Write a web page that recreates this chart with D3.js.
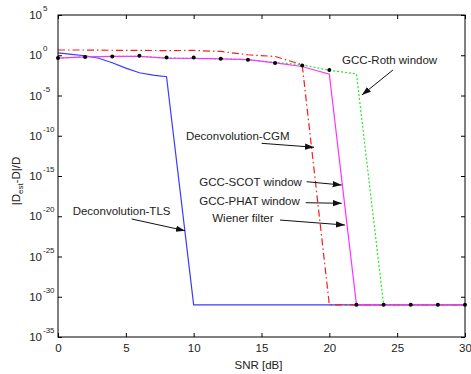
<!DOCTYPE html>
<html>
<head>
<meta charset="utf-8">
<script src="https://cdn.jsdelivr.net/npm/d3@7"></script>
<style>
  html, body { margin: 0; padding: 0; background: #fff; }
  svg { display: block; font-family: "Liberation Sans", Arial, sans-serif; }
</style>
</head>
<body>
<div id="chart"></div>
<script>
// values are log10 of |D_est - D| / D
const snrEven = [0, 2, 4, 6, 8, 10, 12, 14, 16, 18, 20, 22, 24, 26, 28, 30];

const tlsSnr = [0, 1, 2, 3, 4, 5, 6, 7, 8, 10, 30];
const tlsLog = [0.3, 0.12, -0.06, -0.37, -0.93, -1.6, -2.17, -2.48, -2.67, -31, -31];

const cgmLog = [0.65, 0.65, 0.62, 0.6, 0.58, 0.6, 0.47, 0.06, -0.15, -1.18, -31, -31, -31, -31, -31, -31];
const rothLog = [-0.35, -0.2, -0.15, -0.15, -0.35, -0.4, -0.45, -0.55, -0.9, -1.18, -1.88, -2.3, -31, -31, -31, -31];
const wienerLog = [-0.35, -0.2, -0.15, -0.15, -0.35, -0.4, -0.45, -0.55, -0.95, -1.4, -2.35, -31, -31, -31, -31, -31];
const dotsLog = [-0.35, -0.22, -0.15, -0.06, -0.27, -0.27, -0.43, -0.56, -0.97, -1.27, -1.84, -31, -31, -31, -31, -31];

const xTicks = [0, 5, 10, 15, 20, 25, 30];
const yTickExp = [5, 0, -5, -10, -15, -20, -25, -30, -35];

const labels = [
  { text: "GCC-Roth window",   tx: 20.93, ty: -1.09,  ax: 24.69, ay: -1.83,  bx: 22.4,  by: -4.94 },
  { text: "Deconvolution-CGM", tx: 9.43,  ty: -10.47, ax: 15.01, ay: -10.94, bx: 18.87, by: -11.43 },
  { text: "GCC-SCOT window",   tx: 10.41, ty: -16.2,  ax: 18.33, ay: -15.71, bx: 20.91, by: -16.12 },
  { text: "GCC-PHAT window",   tx: 10.41, ty: -18.6,  ax: 18.26, ay: -18.32, bx: 20.91, by: -18.39 },
  { text: "Wiener filter",     tx: 11.37, ty: -20.7,  ax: 16.36, ay: -20.47, bx: 21.15, by: -21.09 },
  { text: "Deconvolution-TLS", tx: 1.08,  ty: -19.84, ax: 5.43,  ay: -20.34, bx: 9.36,  by: -21.79 }
];

const W = 471, H = 374;
const margin = { top: 15, right: 6, bottom: 37, left: 58 };
const width = W - margin.left - margin.right;
const height = H - margin.top - margin.bottom;

const svg = d3.select("#chart").append("svg")
  .attr("width", W)
  .attr("height", H);

const defs = svg.append("defs");
defs.append("marker")
  .attr("id", "arrow")
  .attr("viewBox", "0 0 10 10")
  .attr("refX", 10).attr("refY", 5)
  .attr("markerWidth", 9).attr("markerHeight", 9)
  .attr("markerUnits", "userSpaceOnUse")
  .attr("orient", "auto")
  .append("path")
  .attr("d", "M0,1.5 L10,5 L0,8.5 Z")
  .attr("fill", "#111");

const g = svg.append("g").attr("transform", `translate(${margin.left},${margin.top})`);

const x = d3.scaleLinear().domain([0, 30]).range([0, width]);
const y = d3.scaleLog().domain([1e-35, 1e5]).range([height, 0]);
const ye = e => y(Math.pow(10, e));

// ticks (inward, mirrored like matlab)
const tickVals = yTickExp.map(e => Math.pow(10, e));
g.append("g").attr("transform", `translate(0,${height})`)
  .call(d3.axisBottom(x).tickValues(xTicks).tickSize(-4).tickPadding(7))
  .call(a => a.select(".domain").remove())
  .call(a => a.selectAll("text").style("font-size", "11.5px").attr("fill", "#222"));
g.append("g")
  .call(d3.axisTop(x).tickValues(xTicks).tickSize(-4).tickFormat(""))
  .call(a => a.select(".domain").remove());
g.append("g")
  .call(d3.axisLeft(y).tickValues(tickVals).tickSize(-4).tickFormat(""))
  .call(a => a.select(".domain").remove());
g.append("g").attr("transform", `translate(${width},0)`)
  .call(d3.axisRight(y).tickValues(tickVals).tickSize(-4).tickFormat(""))
  .call(a => a.select(".domain").remove());

// y tick labels 10^k
const yl = g.append("g").attr("fill", "#222");
yTickExp.forEach(e => {
  const t = yl.append("text")
    .attr("x", -16)
    .attr("y", ye(e) + 4)
    .attr("text-anchor", "end")
    .style("font-size", "11.5px")
    .text("10");
  yl.append("text")
    .attr("x", -15)
    .attr("y", ye(e) - 4)
    .style("font-size", "8px")
    .text(e);
});

// series
const line = d3.line().x(d => x(d[0])).y(d => ye(d[1]));
const series = [
  { xs: tlsSnr, ys: tlsLog, color: "#3b3bff", dash: null },
  { xs: snrEven, ys: cgmLog, color: "#ff1a1a", dash: "7,3,1.5,3" },
  { xs: snrEven, ys: rothLog, color: "#22ee22", dash: "2,2" },
  { xs: snrEven, ys: wienerLog, color: "#ff33ff", dash: null }
];
series.forEach(s => {
  g.append("path")
    .datum(s.xs.map((v, i) => [v, s.ys[i]]))
    .attr("fill", "none")
    .attr("stroke", s.color)
    .attr("stroke-width", 1.2)
    .attr("stroke-dasharray", s.dash)
    .attr("d", line);
});

g.selectAll(".dot")
  .data(snrEven.map((v, i) => [v, dotsLog[i]]))
  .enter().append("circle")
  .attr("cx", d => x(d[0]))
  .attr("cy", d => ye(d[1]))
  .attr("r", 2)
  .attr("fill", "#000");

// frame
g.append("rect")
  .attr("width", width).attr("height", height)
  .attr("fill", "none").attr("stroke", "#000").attr("stroke-width", 1);

// annotations
labels.forEach(l => {
  g.append("text")
    .attr("x", x(l.tx)).attr("y", ye(l.ty))
    .style("font-size", "11.5px")
    .attr("fill", "#222")
    .text(l.text);
  g.append("line")
    .attr("x1", x(l.ax)).attr("y1", ye(l.ay))
    .attr("x2", x(l.bx)).attr("y2", ye(l.by))
    .attr("stroke", "#111").attr("stroke-width", 1)
    .attr("marker-end", "url(#arrow)");
});

// axis titles
g.append("text")
  .attr("x", width / 2 - 3).attr("y", height + 32)
  .attr("text-anchor", "middle")
  .style("font-size", "11.5px").attr("fill", "#222")
  .text("SNR [dB]");

const yt = g.append("text")
  .attr("transform", `translate(${-38},${ye(-15) + 5}) rotate(-90)`)
  .attr("text-anchor", "middle")
  .style("font-size", "11.5px").attr("fill", "#222");
yt.append("tspan").text("|D");
yt.append("tspan").attr("dy", 3).style("font-size", "8px").text("est");
yt.append("tspan").attr("dy", -3).text("-D|/D");
</script>
</body>
</html>
